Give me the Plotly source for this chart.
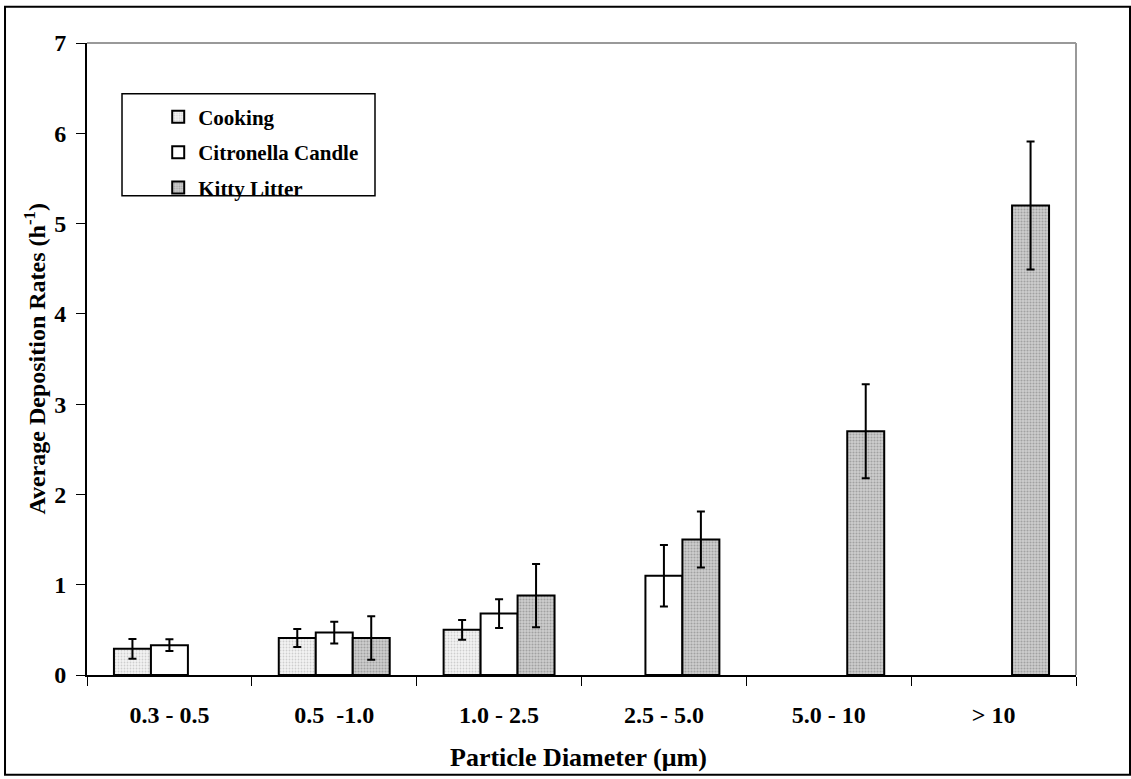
import plotly.graph_objects as go

# particle size bins (um)
size_bins = ["0.3 - 0.5", "0.5\u00a0 -1.0", "1.0 - 2.5", "2.5 - 5.0", "5.0 - 10", "> 10"]

# average deposition rates (1/h) and their error bars
cooking = [0.29, 0.41, 0.50, None, None, None]
cooking_err = [0.11, 0.10, 0.11, None, None, None]

candle = [0.33, 0.47, 0.68, 1.10, None, None]
candle_err = [0.065, 0.12, 0.16, 0.34, None, None]

litter = [None, 0.41, 0.88, 1.50, 2.70, 5.20]
litter_err = [None, 0.24, 0.35, 0.31, 0.52, 0.71]

FONT = "Liberation Serif, Times New Roman, serif"

series = [
    ("Cooking", cooking, cooking_err, dict(shape=".", bgcolor="#f4f4f4", fgcolor="#a8a8a8", size=3, solidity=0.3)),
    ("Citronella Candle", candle, candle_err, None),
    ("Kitty Litter", litter, litter_err, dict(shape=".", bgcolor="#cfcfcf", fgcolor="#747474", size=3, solidity=0.4)),
]

fig = go.Figure()
for name, vals, errs, pattern in series:
    marker = dict(color="white", line=dict(color="black", width=2))
    if pattern:
        marker["pattern"] = pattern
    fig.add_trace(go.Bar(
        x=size_bins, y=vals, name=name, marker=marker,
        legendgroup=name,
        error_y=dict(type="data", array=errs, visible=True,
                     color="black", thickness=2, width=4),
    ))

fig.update_layout(
    width=1131, height=779,
    margin=dict(l=87, r=55, t=43, b=104),
    paper_bgcolor="white", plot_bgcolor="white",
    barmode="group", bargap=0.327, bargroupgap=0,
    font=dict(family=FONT, size=24, color="black", weight="bold"),
    showlegend=True,
    legend=dict(
        x=0.072, y=0.915, xanchor="left", yanchor="top",
        bgcolor="rgba(0,0,0,0)", borderwidth=0,
        font=dict(family=FONT, size=21, color="black", weight="bold"),
        tracegroupgap=5,
    ),
)

fig.update_xaxes(
    type="category", showgrid=False, zeroline=False,
    showline=True, linecolor="black", linewidth=2,
    ticks="outside", tickson="boundaries", ticklen=9, tickcolor="black", tickwidth=1,
    ticklabelstandoff=17,
    tickfont=dict(family=FONT, size=24, color="black", weight="bold"),
)
fig.update_yaxes(
    range=[0, 7], dtick=1, showgrid=False, zeroline=False,
    showline=True, linecolor="black", linewidth=2,
    ticks="outside", ticklen=9, tickcolor="black", tickwidth=1,
    ticklabelstandoff=5,
    tickfont=dict(family=FONT, size=24, color="black", weight="bold"),
)

# axis titles
fig.add_annotation(text="<b>Particle Diameter (\u03bcm)</b>", xref="paper", yref="paper",
                   x=0.497, y=-0.13, showarrow=False, xanchor="center", yanchor="middle",
                   font=dict(family=FONT, size=26, color="black"))
fig.add_annotation(text="<b>Average Deposition Rates (h<sup>-1</sup>)</b>", xref="paper", yref="paper",
                   x=-0.053, y=0.5, showarrow=False, textangle=-90,
                   xanchor="center", yanchor="middle",
                   font=dict(family=FONT, size=24, color="black"))

# plot area border (top/right gray), legend box and outer frame
fig.add_shape(type="line", xref="paper", yref="paper", x0=0, x1=1, y0=1, y1=1,
              line=dict(color="#999999", width=2))
fig.add_shape(type="line", xref="paper", yref="paper", x0=1, x1=1, y0=0, y1=1,
              line=dict(color="#999999", width=2))
fig.add_shape(type="rect", xref="paper", yref="paper",
              x0=0.0354, x1=0.2912, y0=0.7583, y1=0.9198,
              line=dict(color="black", width=1.5))
fig.add_shape(type="rect", xref="paper", yref="paper",
              x0=-0.0829, x1=1.0546, y0=-0.158, y1=1.0574,
              line=dict(color="black", width=2))

fig.write_html(
    "out.html",
    config={"displayModeBar": False},
    post_script="document.body.style.margin='0';document.body.style.overflow='hidden';",
)
